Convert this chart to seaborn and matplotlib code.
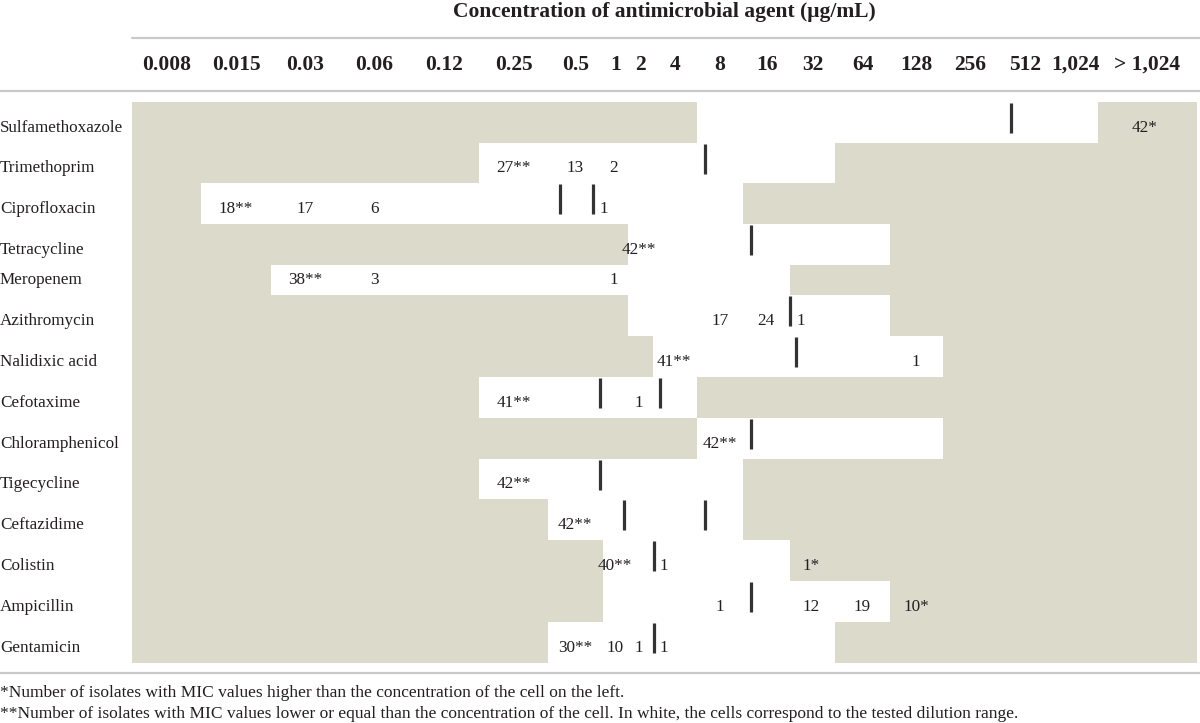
import numpy as np
import pandas as pd
import matplotlib
matplotlib.use("Agg")
import matplotlib.pyplot as plt
from matplotlib.colors import ListedColormap
from matplotlib.lines import Line2D
import seaborn as sns

# Data
concentrations = ["0.008", "0.015", "0.03", "0.06", "0.12", "0.25", "0.5", "1", "2", "4",
                  "8", "16", "32", "64", "128", "256", "512", "1,024", "> 1,024"]
drugs = ["Sulfamethoxazole", "Trimethoprim", "Ciprofloxacin", "Tetracycline", "Meropenem",
         "Azithromycin", "Nalidixic acid", "Cefotaxime", "Chloramphenicol", "Tigecycline",
         "Ceftazidime", "Colistin", "Ampicillin", "Gentamicin"]

# tested dilution range (white cells), first / last concentration index
range_first = [10, 5, 1, 8, 2, 8, 9, 5, 10, 5, 6, 7, 7, 6]
range_last = [17, 12, 10, 13, 11, 13, 14, 9, 14, 10, 10, 11, 13, 12]

# number of isolates: drug row, position on the concentration axis, label
count_row = [0, 1, 1, 1, 2, 2, 2, 2, 3, 4, 4, 4, 5, 5, 5, 6, 6, 7, 7, 8, 9, 10,
             11, 11, 11, 12, 12, 12, 12, 13, 13, 13, 13]
count_pos = [18.47, 5.5, 6.49, 7.44, 1.5, 2.5, 3.5, 7.03, 8.44, 2.5, 3.5, 7.44,
             10.5, 11.49, 12.24, 9.47, 14.49, 5.5, 8.44, 10.5, 5.5, 6.49,
             7.48, 9.25, 12.47, 10.5, 12.47, 13.49, 14.5, 6.49, 7.5, 8.44, 9.25]
count_label = ["42*", "27**", "13", "2", "18**", "17", "6", "1", "42**", "38**", "3", "1",
               "17", "24", "1", "41**", "1", "41**", "1", "42**", "42**", "42**",
               "40**", "1", "1*", "1", "12", "19", "10*", "30**", "10", "1", "1"]

# breakpoints (vertical marks)
bp_row = [0, 1, 2, 2, 3, 5, 6, 7, 7, 8, 9, 10, 10, 11, 12, 13]
bp_pos = [16.23, 10.18, 6.22, 6.82, 11.16, 12.01, 12.14, 6.95, 9.16, 11.17, 6.95,
          7.85, 10.17, 9.02, 11.17, 9.02]

footnote1 = "*Number of isolates with MIC values higher than the concentration of the cell on the left."
footnote2 = ("**Number of isolates with MIC values lower or equal than the concentration of the cell. "
             "In white, the cells correspond to the tested dilution range.")

# Layout (pixels)
W, H = 1200, 723
col_edges = np.array([132, 201, 271, 340, 409, 479, 548, 603, 628, 653, 697, 743, 790,
                      835, 890, 943, 998, 1053, 1098, 1197], float)
row_h = np.full(len(drugs), 40.85)
row_h[4] = 30.0  # row without breakpoint marks is shorter
row_edges = np.r_[0, np.cumsum(row_h)]
table_top = 101.7

GRAY = "#DCDACB"
TXT = "#231F20"
RULE = "#C9C9C9"


def piecewise(px):
    idx = np.arange(len(px), dtype=float)
    idx = np.r_[idx[0] - 1e4, idx, idx[-1] + 1e4]
    px = np.r_[px[0] - 4e5, px, px[-1] + 4e5]
    return (lambda v: np.interp(v, idx, px), lambda p: np.interp(p, px, idx))


fx = piecewise(col_edges)
fy = piecewise(row_edges)

sns.set_style("white")
plt.rcParams["font.family"] = ["Liberation Serif", "DejaVu Serif"]

fig = plt.figure(figsize=(12, 7.23), dpi=100)
ax = fig.add_axes([col_edges[0] / W, 1 - (table_top + row_edges[-1]) / H,
                   (col_edges[-1] - col_edges[0]) / W, row_edges[-1] / H])

grid = pd.DataFrame(np.ones((len(drugs), len(concentrations))), index=drugs, columns=concentrations)
tested = np.zeros(grid.shape, bool)
for r, (a, b) in enumerate(zip(range_first, range_last)):
    tested[r, a:b + 1] = True

sns.heatmap(grid, mask=tested, cmap=ListedColormap([GRAY]), cbar=False,
            linewidths=0, ax=ax)

ax.set_xscale("function", functions=fx)
ax.set_yscale("function", functions=fy)
ax.set_xlim(0, len(concentrations))
ax.set_ylim(len(drugs), 0)
for s in ax.spines.values():
    s.set_visible(False)

# text sits 15 px above the bottom of each row
text_y = fy[1](row_edges[1:] - 15)

# counts
for r, x, lab in zip(count_row, count_pos, count_label):
    ax.text(x, text_y[r], lab, ha="center", va="center", fontsize=12.3, color=TXT)

# breakpoint marks: from top of the row down 31 px
bar_top = fy[1](row_edges[np.array(bp_row)] + 1)
bar_bot = fy[1](row_edges[np.array(bp_row)] + 31)
ax.vlines(bp_pos, bar_top, bar_bot, color="#333333", lw=2.3)

# drug names
ax.set_xticks([])
ax.set_yticks(text_y, drugs)
ax.tick_params(axis="y", length=0, pad=col_edges[0] * 0.72, labelsize=12.3, labelcolor=TXT)
for lab in ax.get_yticklabels():
    lab.set_ha("left")

# concentration header
hy = 1 + (table_top - 65) / row_edges[-1]
for i, c in enumerate(concentrations):
    ax.text(i + 0.5, hy, c, transform=ax.get_xaxis_transform(), ha="center", va="center",
            fontsize=15.5, fontweight="bold", color=TXT)

fig.text((col_edges[0] + col_edges[-1]) / 2 / W, 1 - 12 / H,
         "Concentration of antimicrobial agent (\u03bcg/mL)", ha="center", va="center",
         fontsize=15.5, fontweight="bold", color=TXT)

# rules
for x0, yy in [(col_edges[0], 37.7), (0, 90.7), (0, 672.7)]:
    fig.add_artist(Line2D([x0 / W, 1], [1 - yy / H] * 2, color=RULE, lw=1.6,
                          transform=fig.transFigure))

fig.text(0, 1 - 692.7 / H, footnote1, ha="left", va="center", fontsize=12.5, color=TXT)
fig.text(0, 1 - 714 / H, footnote2, ha="left", va="center", fontsize=12.5, color=TXT)

fig.savefig("out.png", dpi=100)
